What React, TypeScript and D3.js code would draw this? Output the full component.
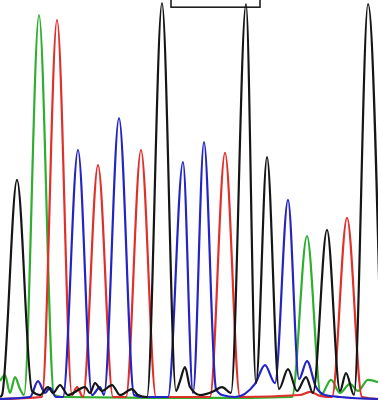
import React, { useEffect, useRef } from "react";
import * as d3 from "d3";

type Pt = [number, number];

// trace vertices per dye channel: [scan position, signal]
const blackTrace: Pt[] = [
  [0, 5], [2, 10], [17, 549], [32, 20], [40, 10], [48, 30], [53, 15], [60, 35],
  [68, 10], [85, 30], [90, 15], [95, 40], [102, 20], [112, 35], [120, 10],
  [132, 25], [138, 10], [147, 5], [162, 992], [176, 20], [180, 45], [185, 80],
  [190, 30], [200, 10], [214, 20], [222, 30], [231, 15], [246, 990], [256, 40],
  [267, 606], [279, 25], [288, 75], [297, 20], [306, 55], [313, 15], [327, 424],
  [340, 20], [346, 65], [354, 10], [368, 990], [382, 0],
];
const greenTrace: Pt[] = [
  [0, 45], [5, 60], [10, 15], [15, 55], [20, 25], [24, 10], [39, 962], [54, 10],
  [62, 5], [150, 3], [250, 3], [292, 5], [307, 408], [321, 10], [331, 48],
  [340, 15], [350, 38], [358, 20], [368, 48], [378, 42],
];
const redTrace: Pt[] = [
  [0, 0], [42, 5], [57, 950], [72, 10], [77, 30], [83, 5], [98, 586], [113, 5],
  [126, 5], [141, 624], [156, 5], [210, 5], [225, 617], [240, 5], [300, 10],
  [310, 18], [320, 8], [332, 5], [347, 454], [362, 5], [378, 0],
];
const blueTrace: Pt[] = [
  [0, 0], [30, 5], [38, 45], [45, 15], [50, 28], [56, 5], [63, 5], [78, 624],
  [92, 10], [100, 30], [104, 10], [119, 704], [134, 10], [142, 5], [168, 5],
  [183, 594], [193, 15], [204, 644], [216, 25], [222, 10], [235, 5], [255, 38],
  [265, 85], [275, 40], [288, 499], [299, 50], [307, 95], [316, 30], [325, 10],
  [340, 5], [378, 0],
];

// highlighted region (scan positions) and its lower edge (signal)
const boxRange: [number, number] = [171, 260];
const boxBottom = 982;

const channels = [
  { name: "G", color: "#2fae2f", data: greenTrace },
  { name: "T", color: "#e0302c", data: redTrace },
  { name: "C", color: "#2424c4", data: blueTrace },
  { name: "A", color: "#151515", data: blackTrace },
];

const W = 378;
const H = 405;

const App: React.FC = () => {
  const svgRef = useRef<SVGSVGElement | null>(null);

  useEffect(() => {
    if (!svgRef.current) return;
    const svg = d3.select(svgRef.current);
    svg.selectAll("*").remove();

    const x = d3.scaleLinear().domain([0, 378]).range([0, W]);
    const y = d3.scaleLinear().domain([0, 1000]).range([399, 0]);

    const line = d3
      .line<Pt>()
      .x((d) => x(d[0]))
      .y((d) => y(d[1]))
      .curve(d3.curveMonotoneX);

    svg.append("rect").attr("width", W).attr("height", H).attr("fill", "#fff");

    channels.forEach((c) => {
      svg
        .append("path")
        .datum(c.data)
        .attr("fill", "none")
        .attr("stroke", c.color)
        .attr("stroke-width", 2.2)
        .attr("stroke-linejoin", "round")
        .attr("d", line);
    });

    // highlight box at the top
    svg
      .append("rect")
      .attr("x", x(boxRange[0]))
      .attr("y", -5)
      .attr("width", x(boxRange[1]) - x(boxRange[0]))
      .attr("height", y(boxBottom) + 5)
      .attr("fill", "none")
      .attr("stroke", "#111")
      .attr("stroke-width", 1.5);
  }, []);

  return (
    <svg
      ref={svgRef}
      width={W}
      height={H}
      style={{ position: "fixed", left: 0, top: 0, display: "block" }}
    ></svg>
  );
};

export default App;
